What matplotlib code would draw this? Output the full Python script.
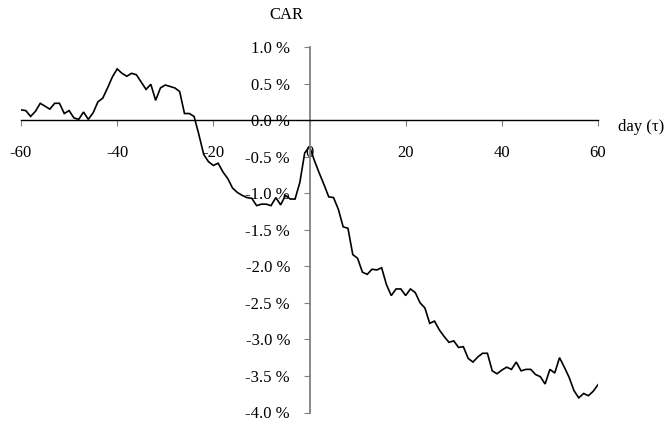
import matplotlib
matplotlib.use("Agg")
import matplotlib.pyplot as plt

days = list(range(-60, 61))
car = [
    0.14, 0.13, 0.05, 0.12, 0.23, 0.19, 0.15, 0.23, 0.23, 0.09,   # -60..-51
    0.13, 0.03, 0.01, 0.11, 0.01, 0.10, 0.25, 0.30, 0.44, 0.59,   # -50..-41
    0.70, 0.64, 0.60, 0.64, 0.62, 0.52, 0.42, 0.49, 0.27, 0.44,   # -40..-31
    0.48, 0.46, 0.44, 0.39, 0.09, 0.09, 0.05, -0.20, -0.47, -0.57,  # -30..-21
    -0.62, -0.59, -0.71, -0.80, -0.93, -0.99, -1.03, -1.06, -1.07, -1.17,  # -20..-11
    -1.15, -1.15, -1.17, -1.06, -1.16, -1.03, -1.08, -1.08, -0.85, -0.45,  # -10..-1
    -0.36,                                                          # 0
    -0.55, -0.72, -0.88, -1.05, -1.06, -1.22, -1.46, -1.48, -1.84, -1.89,  # 1..10
    -2.08, -2.11, -2.04, -2.05, -2.02, -2.25, -2.40, -2.31, -2.31, -2.40,  # 11..20
    -2.31, -2.36, -2.50, -2.57, -2.78, -2.75, -2.87, -2.96, -3.04, -3.02,  # 21..30
    -3.11, -3.10, -3.26, -3.31, -3.24, -3.19, -3.19, -3.43, -3.47, -3.42,  # 31..40
    -3.38, -3.41, -3.31, -3.43, -3.41, -3.41, -3.48, -3.51, -3.61, -3.41,  # 41..50
    -3.46, -3.25, -3.38, -3.52, -3.70, -3.80, -3.74, -3.77, -3.71, -3.62,  # 51..60
]

x_ticks = [-60, -40, -20, 0, 20, 40, 60]
x_tick_labels = ["-60", "-40", "-20", "0", "20", "40", "60"]
y_ticks = [1.0, 0.5, 0.0, -0.5, -1.0, -1.5, -2.0, -2.5, -3.0, -3.5, -4.0]
y_tick_labels = ["1.0 %", "0.5 %", "0.0 %", "-0.5 %", "-1.0 %", "-1.5 %",
                 "-2.0 %", "-2.5 %", "-3.0 %", "-3.5 %", "-4.0 %"]

plt.rcParams['font.family'] = ['Liberation Serif', 'DejaVu Serif']
FS = 12

fig = plt.figure(figsize=(6.70, 4.21), dpi=100)
top_px, bot_px = 47.0, 412.5
ax = fig.add_axes([21 / 670, (421 - bot_px) / 421, 577 / 670, (bot_px - top_px) / 421])

ax.plot(days, car, color='black', lw=1.2, solid_joinstyle='miter')

ax.set_xlim(-60, 60)
ax.set_ylim(-4.0, 1.0)

for s in ('top', 'right'):
    ax.spines[s].set_visible(False)
ax.spines['left'].set_position(('data', 0))
ax.spines['bottom'].set_position(('data', 0))
ax.spines['left'].set_color('#808080')
ax.spines['left'].set_linewidth(1.3)
ax.spines['bottom'].set_color('black')
ax.spines['bottom'].set_linewidth(1.0)

ax.set_xticks(x_ticks)
ax.set_xticklabels(x_tick_labels)
ax.set_yticks(y_ticks)
ax.set_yticklabels(y_tick_labels)

ax.tick_params(axis='x', direction='out', length=4, width=0.8, color='#808080',
               pad=14, labelsize=FS)
ax.tick_params(axis='y', direction='out', length=4, width=0.8, color='#808080',
               pad=10, labelsize=FS)

fig.text(286 / 670, 1 - 15 / 421, "CAR", ha='center', va='center', fontsize=FS)
fig.text(618 / 670, 1 - 127 / 421, "day (τ)", ha='left', va='center', fontsize=FS)

fig.savefig("out.png", dpi=100)
